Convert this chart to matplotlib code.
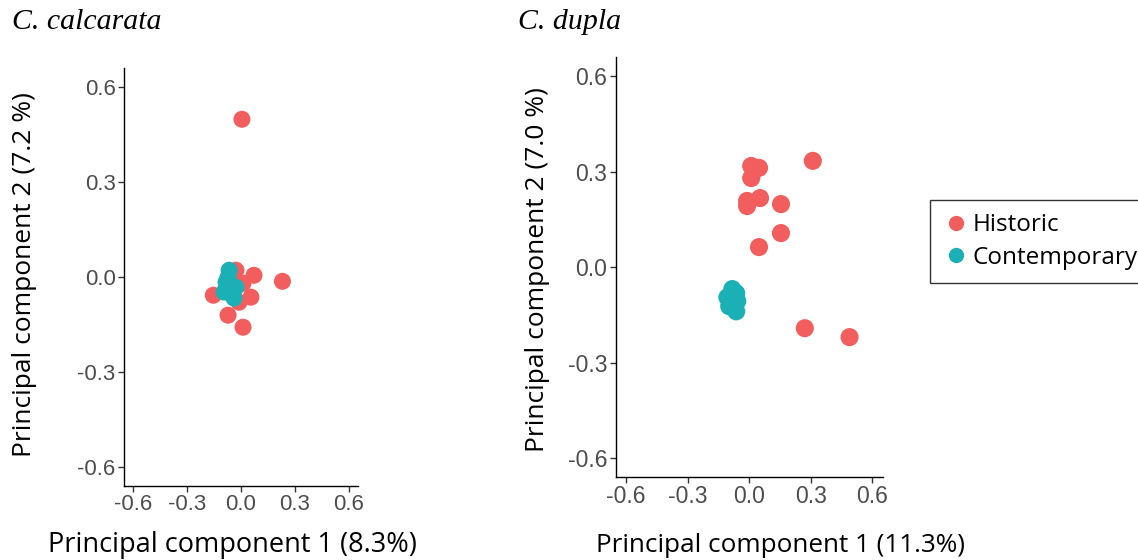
import matplotlib
matplotlib.use("Agg")
import matplotlib.pyplot as plt
from matplotlib.lines import Line2D
import numpy as np

plt.rcParams["font.family"] = ["Liberation Sans", "DejaVu Sans"]

# C. calcarata
calc_hist_x = [0.005, 0.23, 0.072, -0.028, 0.011, -0.154, 0.055, -0.011, -0.072, 0.011]
calc_hist_y = [0.499, -0.013, 0.006, 0.022, -0.019, -0.057, -0.063, -0.079, -0.12, -0.158]
calc_cont_x = [-0.066, -0.072, -0.083, -0.028, -0.055, -0.094, -0.039, -0.066]
calc_cont_y = [0.022, 0.0, -0.016, -0.032, -0.041, -0.047, -0.066, -0.022]

# C. dupla
dupla_hist_x = [0.01, 0.048, 0.01, 0.31, -0.01, -0.01, 0.053, 0.155, 0.155, 0.048, 0.271, 0.489]
dupla_hist_y = [0.318, 0.312, 0.28, 0.334, 0.208, 0.192, 0.217, 0.198, 0.107, 0.063, -0.192, -0.22]
dupla_cont_x = [-0.082, -0.063, -0.087, -0.058, -0.097, -0.063, -0.106]
dupla_cont_y = [-0.069, -0.082, -0.107, -0.107, -0.123, -0.139, -0.095]

ticks = [-0.6, -0.3, 0.0, 0.3, 0.6]
tick_labels = ["-0.6", "-0.3", "0.0", "0.3", "0.6"]

red = "#F25E5E"
teal = "#1AB0B5"
label_font = "Open Sans"

fig = plt.figure(figsize=(11.38, 5.6), dpi=100)
ax1 = fig.add_axes([0.109, 0.132, 0.2056, 0.746])
ax2 = fig.add_axes([0.541, 0.148, 0.2346, 0.75])


def style(ax, tsize):
    ax.set_xlim(-0.65, 0.65)
    ax.set_ylim(-0.66, 0.66)
    ax.set_xticks(ticks)
    ax.set_xticklabels(tick_labels, fontsize=tsize, family="Liberation Sans")
    ax.set_yticks(ticks)
    ax.set_yticklabels(tick_labels, fontsize=tsize, family="Liberation Sans")
    for s in ["top", "right"]:
        ax.spines[s].set_visible(False)
    for s in ["left", "bottom"]:
        ax.spines[s].set_linewidth(1.0)
        ax.spines[s].set_color("black")
    ax.tick_params(direction="out", length=4, color="#333333", labelcolor="#4D4D4D",
                   width=1, pad=2)


ax1.scatter(calc_hist_x, calc_hist_y, s=150, color=red, edgecolors="none", zorder=2)
ax1.scatter(calc_cont_x, calc_cont_y, s=150, color=teal, edgecolors="none", zorder=3)
style(ax1, 16)

ax2.scatter(dupla_hist_x, dupla_hist_y, s=170, color=red, edgecolors="none", zorder=2)
ax2.scatter(dupla_cont_x, dupla_cont_y, s=170, color=teal, edgecolors="none", zorder=3)
style(ax2, 16.5)

fig.text(232/1138, 1-545/560, "Principal component 1 (8.3%)", ha="center", va="center",
         fontsize=19.5, family=label_font)
fig.text(25/1138, 1-275/560, "Principal component 2 (7.2 %)", ha="center", va="center",
         rotation=90, fontsize=19, family=label_font)
fig.text(780/1138, 1-545/560, "Principal component 1 (11.3%)", ha="center", va="center",
         fontsize=18.8, family=label_font)
fig.text(537/1138, 1-270/560, "Principal component 2 (7.0 %)", ha="center", va="center",
         rotation=90, fontsize=19, family=label_font)

fig.text(12/1138, 1-22/560, "C. calcarata", ha="left", va="center", fontsize=21.5,
         family="Liberation Serif", style="italic")
fig.text(518/1138, 1-22/560, "C. dupla", ha="left", va="center", fontsize=21.5,
         family="Liberation Serif", style="italic")

handles = [Line2D([], [], marker="o", linestyle="none", markersize=11, color=red,
                  markeredgecolor="none", label="Historic"),
           Line2D([], [], marker="o", linestyle="none", markersize=11, color=teal,
                  markeredgecolor="none", label="Contemporary")]
leg = fig.legend(handles=handles, loc="upper left", bbox_to_anchor=(930/1138, 1-200/560),
                 frameon=True, fancybox=False, handletextpad=0.2,
                 handlelength=1.0, borderpad=0.55, labelspacing=0.35, borderaxespad=0,
                 prop={"family": label_font, "size": 17.5})
leg.get_frame().set_edgecolor("black")
leg.get_frame().set_linewidth(1.0)

fig.savefig("out.png", dpi=100)
